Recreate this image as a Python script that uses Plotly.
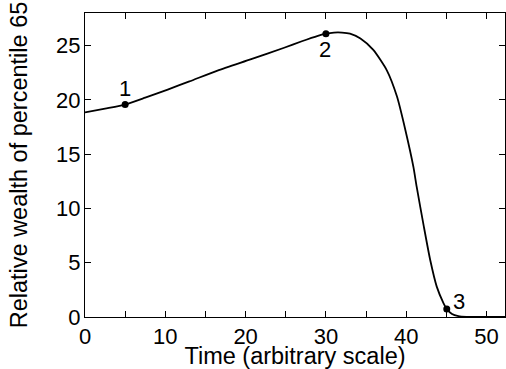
import plotly.graph_objects as go

time = [0, 2.5, 5, 7.5, 10.3, 13, 16.5, 20.7, 24.8, 27, 29, 30, 31, 32, 33, 34.3,
        35.9, 37.6, 38.85, 39.9, 40.9, 41.3, 42.2, 43.0, 43.8, 44.65, 45.05, 45.7,
        46.5, 47.5, 49, 52.3]
wealth = [18.85, 19.2, 19.57, 20.2, 20.95, 21.7, 22.7, 23.75, 24.8, 25.4, 25.9, 26.1,
          26.2, 26.2, 26.1, 25.65, 24.6, 22.7, 20.3, 17.2, 13.8, 12.0, 8.3, 5.2, 2.8,
          1.26, 0.74, 0.28, 0.09, 0.02, 0.0, 0.0]

point_x = [5, 30, 45.05]
point_y = [19.57, 26.1, 0.74]
point_labels = ["1", "2", "3"]
label_x = [5, 29.9, 46.6]
label_y = [21.05, 24.65, 1.45]

x_ticks = [0, 5, 10, 15, 20, 25, 30, 35, 40, 45, 50]
x_tick_text = ["0", "", "10", "", "20", "", "30", "", "40", "", "50"]
y_ticks = [0, 5, 10, 15, 20, 25]

font_family = "Liberation Sans, Arial, Helvetica, sans-serif"

fig = go.Figure()
fig.add_trace(go.Scatter(x=time, y=wealth, mode="lines",
                         line=dict(color="black", width=1.8, shape="spline", smoothing=0.6),
                         hoverinfo="skip", showlegend=False))
fig.add_trace(go.Scatter(x=point_x, y=point_y, mode="markers",
                         marker=dict(color="black", size=7),
                         showlegend=False))
for lx, ly, t in zip(label_x, label_y, point_labels):
    fig.add_annotation(x=lx, y=ly, xref="x", yref="y", text=t, showarrow=False,
                       font=dict(size=22, color="black", family=font_family))

axis_common = dict(showgrid=False, zeroline=False, showline=True, linecolor="black",
                   linewidth=1.3, ticks="inside", ticklen=6, tickcolor="black",
                   tickwidth=1, mirror="ticks",
                   tickfont=dict(size=22, color="black", family=font_family))

fig.update_xaxes(range=[0, 52.3], tickvals=x_ticks, ticktext=x_tick_text,
                 ticklabelstandoff=-1,
                 title=dict(text="Time (arbitrary scale)", standoff=4,
                            font=dict(size=23.5, color="black", family=font_family)),
                 **axis_common)
fig.update_yaxes(range=[0, 28], tickvals=y_ticks, ticklabelstandoff=-1,
                 title=dict(text="Relative wealth of percentile 65", standoff=21,
                            font=dict(size=23.5, color="black", family=font_family)),
                 **axis_common)

fig.update_layout(width=506, height=369, margin=dict(l=85, r=1, t=13, b=52),
                  plot_bgcolor="white", paper_bgcolor="white",
                  font=dict(family=font_family, color="black"))

fig.write_html("out.html", config={"displayModeBar": False},
               post_script="document.body.style.margin='0';document.body.style.padding='0';")
